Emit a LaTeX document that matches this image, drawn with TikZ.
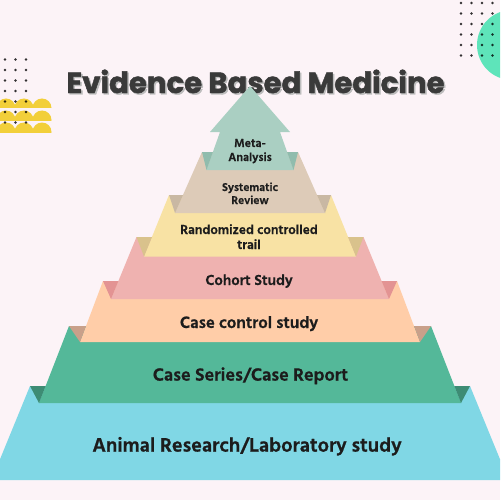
\documentclass[tikz,border=0pt]{standalone}
\usepackage{fontspec}
\setmainfont{Hind Siliguri}[BoldFeatures={FakeBold=0.8}]
\newfontfamily\titlefont{Poppins}[BoldFeatures={FakeBold=1.6}]
\definecolor{bgc}{HTML}{FCF3F7}
\definecolor{sagec}{HTML}{AACFC2}
\definecolor{sagef}{HTML}{90BCAD}
\definecolor{beigec}{HTML}{DDCBB8}
\definecolor{beigef}{HTML}{C9B8A3}
\definecolor{yellowc}{HTML}{F8E2A4}
\definecolor{yellowf}{HTML}{D9C28C}
\definecolor{pinkc}{HTML}{EFB2B0}
\definecolor{pinkf}{HTML}{E39393}
\definecolor{peachc}{HTML}{FFCDA8}
\definecolor{peachf}{HTML}{C9A08A}
\definecolor{tealc}{HTML}{54B899}
\definecolor{tealf}{HTML}{3E8C74}
\definecolor{cyanc}{HTML}{80D7E5}
\definecolor{mintc}{HTML}{5EE4BA}
\definecolor{domec}{HTML}{F2CF3A}
\definecolor{labcol}{HTML}{1C1C1C}
\definecolor{titlecol}{HTML}{3A3A3A}
\definecolor{shadowc}{HTML}{BDBDBD}
\newcommand\pyrlayer[5]{\fill[#5] (250-#2,#1) -- (250+#2,#1) -- (250+#4,#3) -- (250-#4,#3) -- cycle;}
\newcommand\pyrfold[6]{%
  \fill[#6] (250-#2,#1) -- (250-#3,#1) -- (250-#5,#4) -- cycle;
  \fill[#6] (250+#2,#1) -- (250+#3,#1) -- (250+#5,#4) -- cycle;}
\begin{document}
\begin{tikzpicture}[x=0.02cm,y=-0.02cm,
  lab/.style={inner sep=0pt, anchor=base, text=labcol, font=\bfseries\fontsize{#1}{#1}\selectfont},
  dotc/.style={fill=black, opacity=0.8}]
\useasboundingbox (0,0) rectangle (500,500);
\path[clip] (0,0) rectangle (500,500);
\fill[bgc] (0,0) rectangle (500,500);
% decorations
\fill[mintc] (512,45) circle[radius=35];
\foreach \cx in {6,24,42}{\foreach \cy in {108,120,132}{
  \begin{scope}\clip (\cx-10,\cy-10) rectangle (\cx+10,\cy);
  \fill[domec] (\cx,\cy) circle[radius=9.5];\end{scope}}}
\foreach \dx in {461,471.5,482,492.5}{\foreach \dy in {3,13.5,24,34.5,45,55.5}{
  \fill[dotc] (\dx,\dy) circle[radius=1.3];}}
\foreach \dx in {5,15.5,26}{\foreach \dy in {59.5,70,80.5,91,101.5,112,122.5}{
  \fill[dotc] (\dx,\dy) circle[radius=1.3];}}
% title
\node[inner sep=0pt, anchor=base, text=shadowc, font=\titlefont\bfseries\fontsize{16.6}{20}\selectfont] (titleshadow) at (257,94.5) {Evidence Based Medicine};
\node[inner sep=0pt, anchor=base, text=titlecol, font=\titlefont\bfseries\fontsize{16.6}{20}\selectfont] (title) at (255.5,93) {Evidence Based Medicine};
% pyramid
\pyrlayer{386}{220}{480}{258.5}{cyanc}
\pyrlayer{326}{181}{403}{211}{tealc}
\pyrfold{386}{220}{204.4}{403}{211}{tealf}
\pyrlayer{281}{147}{342}{170}{peachc}
\pyrfold{326}{181}{164}{342}{170}{peachf}
\pyrlayer{237}{113.5}{299}{139}{pinkc}
\pyrfold{281}{147}{131.6}{299}{139}{pinkf}
\pyrlayer{195}{81}{256.5}{106}{yellowc}
\pyrfold{237}{113.5}{98}{256.5}{106}{yellowf}
\pyrlayer{152}{48}{213}{75}{beigec}
\pyrfold{195}{81}{67}{213}{75}{beigef}
\fill[sagec] (250,86) -- (290,132) -- (280,132) -- (293.5,170) -- (206.5,170) -- (220,132) -- (210,132) -- cycle;
\pyrfold{152}{48}{37.1}{170}{43.5}{sagef}
% labels
\node[lab=6.8] (meta1) at (250,147) {Meta-};
\node[lab=6.8] (meta2) at (250,161) {Analysis};
\node[lab=6.6] (sys1) at (250,191) {Systematic};
\node[lab=7.6] (rct1) at (249,234) {Randomized controlled};
\node[lab=6.6] (sys2) at (250,204) {Review};
\node[lab=7.6] (rct2) at (249,249) {trail};
\node[lab=8.5] (coh) at (249,285) {Cohort Study};
\node[lab=9.6] (cc) at (249,328) {Case control study};
\node[lab=10.4] (cs) at (250.5,380.7) {Case Series/Case Report};
\node[lab=11.5] (an) at (247,451.7) {Animal Research/Laboratory study};
\end{tikzpicture}
\end{document}
